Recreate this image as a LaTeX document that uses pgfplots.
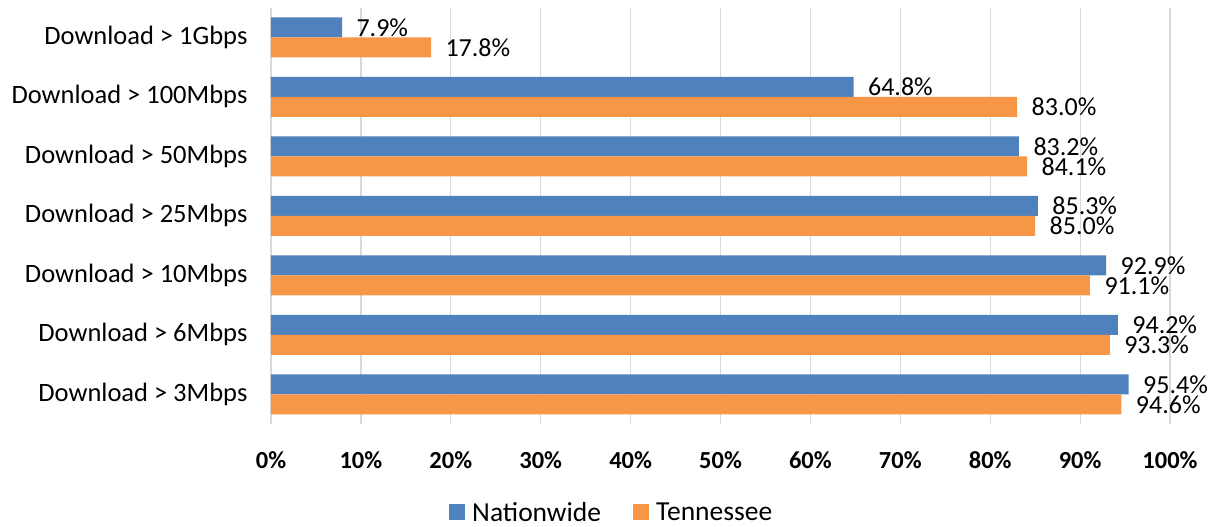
\documentclass[border=0pt]{standalone}
\usepackage{pgfplots}
\pgfplotsset{compat=1.18}
\usepackage{fontspec}
\setmainfont{Carlito}
\definecolor{cblue}{HTML}{4F81BD}
\definecolor{corange}{HTML}{F79646}
\definecolor{cgrid}{HTML}{D9D9D9}
\begin{document}
\begin{tikzpicture}[x=1pt,y=1pt]
\useasboundingbox (0,0) rectangle (1215,-527);
\begin{axis}[
  at={(271pt,-424pt)}, anchor=south west,
  scale only axis, width=899pt, height=416.5pt,
  xbar, bar width=20pt,
  xmin=0, xmax=100,
  ymin=-0.5, ymax=6.5, y dir=reverse,
  ytick={0,...,6},
  yticklabels={Download > 1Gbps,Download > 100Mbps,Download > 50Mbps,Download > 25Mbps,Download > 10Mbps,Download > 6Mbps,Download > 3Mbps},
  xtick={0,10,...,100},
  xticklabels={0\%,10\%,20\%,30\%,40\%,50\%,60\%,70\%,80\%,90\%,100\%},
  major tick length=0pt,
  axis x line*=bottom, axis y line*=left,
  x axis line style={draw=none},
  y axis line style={draw=cgrid, line width=1.2pt},
  xmajorgrids, grid style={cgrid, line width=1.2pt},
  tick label style={font=\fontsize{26.5}{30}\selectfont},
  xticklabel style={font=\fontsize{24.5}{28}\selectfont\bfseries, yshift=-24pt},
  yticklabel style={xshift=-20pt},
  nodes near coords={\pgfmathprintnumber[assume math mode=true,fixed,fixed zerofill,precision=1]{\pgfplotspointmeta}\%},
  every node near coord/.append style={font=\fontsize{26}{30}\selectfont, anchor=west, xshift=11pt, text=black},
  legend style={draw=none, at={(0.379,-0.212)}, anchor=center, font=\fontsize{27.5}{30}\selectfont, legend columns=2,
    /tikz/every odd column/.append style={column sep=5pt},
    /tikz/every even column/.append style={column sep=30pt}},
  legend image code/.code={\fill[#1] (0pt,-8pt) rectangle (16pt,8pt);},
]
\addplot+[fill=cblue, draw=none, bar shift=10pt] coordinates {(7.9,0) (64.8,1) (83.2,2) (85.3,3) (92.9,4) (94.2,5) (95.4,6)};
\addplot+[fill=corange, draw=none, bar shift=-10pt] coordinates {(17.8,0) (83.0,1) (84.1,2) (85.0,3) (91.1,4) (93.3,5) (94.6,6)};
\legend{Nationwide,Tennessee}
\end{axis}
\end{tikzpicture}
\end{document}
